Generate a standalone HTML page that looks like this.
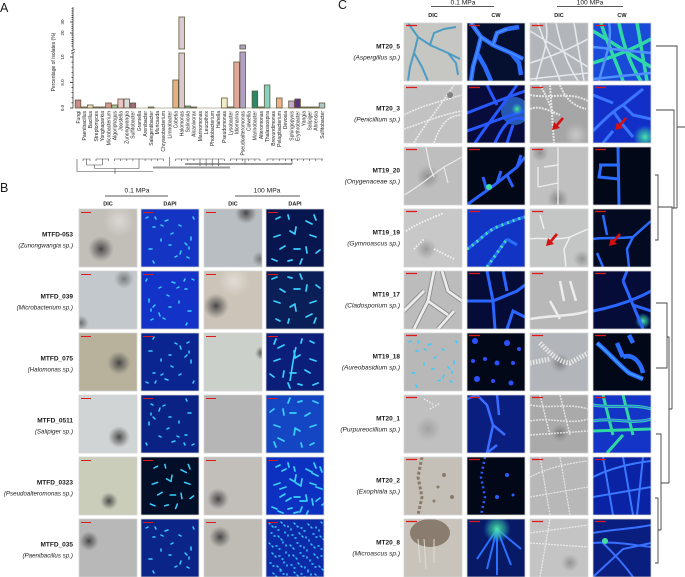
<!DOCTYPE html>
<html><head><meta charset="utf-8"><style>
html,body{margin:0;padding:0;background:#fff;}
svg{display:block;}
text{font-family:"Liberation Sans",Arial,sans-serif;fill:#1a1a1a;}
.it{font-family:"Liberation Serif","Noto Serif CJK SC",serif;font-style:italic;}
.ml{font-size:6.5px;font-weight:bold;text-anchor:end;}
.sl{font-size:6.5px;text-anchor:end;}
.sb{font-size:6.2px;text-anchor:end;}
.hd{font-size:6.7px;text-anchor:middle;}
.ch{font-size:5.5px;font-weight:bold;text-anchor:middle;}
.xl{font-size:5px;text-anchor:end;}
</style></head><body>
<svg width="685" height="577" viewBox="0 0 685 577" xmlns="http://www.w3.org/2000/svg">
<defs>
<clipPath id="cc"><rect width="58" height="58"/></clipPath>
<radialGradient id="blob"><stop offset="0" stop-color="#303030" stop-opacity="0.85"/><stop offset="0.55" stop-color="#505050" stop-opacity="0.45"/><stop offset="1" stop-color="#707070" stop-opacity="0"/></radialGradient>
<radialGradient id="lite"><stop offset="0" stop-color="#ffffff" stop-opacity="0.4"/><stop offset="1" stop-color="#ffffff" stop-opacity="0"/></radialGradient>
<radialGradient id="grn"><stop offset="0" stop-color="#50f0b0" stop-opacity="0.95"/><stop offset="0.6" stop-color="#30c0a0" stop-opacity="0.5"/><stop offset="1" stop-color="#2080ff" stop-opacity="0"/></radialGradient>
<g id="b1" stroke="#38ccff" stroke-width="1.5" stroke-linecap="round" fill="none">
<path d="M5,9l2,-1M14,8l1,2M24,12l3,-1M12,18l2,0M20,16l2,1M30,25l2,-1M50,28l0,3M44,34l2,2M48,38l0,2M8,40l3,0M40,42l-1,3M46,48l2,1M12,52l1,2M34,48l2,-1M52,8l1,2M28,36l2,0M20,30l0,2M38,16l2,1"/>
</g>
<g id="b2" stroke="#38d0ff" stroke-width="1.7" stroke-linecap="round" fill="none">
<path d="M10,10l4,-2M22,6l1,4M40,12l6,3M48,6l2,5M8,28l6,-2M24,22l5,3M30,18l-1,6M44,26l6,2M14,40l5,-3M28,40l6,0M40,38l1,6M50,44l4,-3M6,50l5,2M22,52l4,-1M36,50l-2,5"/>
</g>
<g id="b3" stroke="#38ccff" stroke-width="1.4" stroke-linecap="round" fill="none">
<path d="M3,4l1,1M9,8l1,0M15,3l1,1M22,7l0,1M28,4l1,1M35,9l1,0M42,5l1,1M50,8l0,1M55,3l1,1M5,14l1,0M12,17l1,1M19,13l0,1M26,16l1,0M33,14l1,1M40,18l0,1M47,15l1,0M54,17l1,1M3,24l1,1M10,27l1,0M17,23l0,1M24,26l1,1M31,24l1,0M38,28l0,1M45,25l1,1M52,27l1,0M6,34l1,1M13,37l1,0M20,33l0,1M27,36l1,1M34,34l1,0M41,38l0,1M48,35l1,1M55,37l1,0M4,44l1,0M11,47l1,1M18,43l0,1M25,46l1,0M32,44l1,1M39,48l0,1M46,45l1,0M53,47l1,1M7,54l1,1M14,52l1,0M21,55l0,1M28,53l1,1M35,55l1,0M42,52l0,1M49,55l1,1"/>
</g>
<g id="arw"><path d="M9,-7 L3,0" stroke="#d41010" stroke-width="2.6" fill="none"/><polygon points="-2,5 0,-3 6,3" fill="#d41010"/></g>
</defs>

<!-- ============ PANEL A ============ -->
<text x="0" y="12" style="font-size:12.5px">A</text>
<text transform="translate(55,62) rotate(-90)" style="font-size:5px;text-anchor:middle">Percentage of isolates (%)</text>
<g stroke="#222" stroke-width="0.7" fill="none">
<path d="M73,53V108.3M73,7V49.5"/>
<path d="M71.2,51 l3.6,-1.6M71.2,53.3 l3.6,-1.6"/>
<path d="M70,108H73M70,82.5H73M70,57H73M70,33H73M70,22H73"/>
<path d="M71.5,102.9H73M71.5,97.8H73M71.5,92.7H73M71.5,87.6H73M71.5,77.4H73M71.5,72.3H73M71.5,67.2H73M71.5,62.1H73"/>
<path d="M71.5,46H73M71.5,43.8H73M71.5,41.6H73M71.5,39.4H73M71.5,37.2H73M71.5,35H73M71.5,30.8H73M71.5,28.6H73M71.5,26.4H73M71.5,24.2H73M71.5,19.8H73M71.5,17.6H73M71.5,15.4H73M71.5,13.2H73M71.5,11H73M71.5,8.8H73"/>
</g>
<g style="font-size:4.5px;text-anchor:middle">
<text transform="translate(64,108) rotate(-90)">0.0</text>
<text transform="translate(64,82.5) rotate(-90)">5.0</text>
<text transform="translate(64,57) rotate(-90)">10</text>
<text transform="translate(64,33) rotate(-90)">20</text>
<text transform="translate(64,22) rotate(-90)">30</text>
</g>
<g stroke="#5c5a3c" stroke-width="0.8">
<rect x="75.2" y="100" width="5.6" height="8" fill="#c98a8a"/>
<rect x="81.3" y="107" width="5.6" height="1" fill="#b09070"/>
<rect x="87.4" y="105" width="5.6" height="3" fill="#ece4c4"/>
<rect x="93.5" y="107" width="5.6" height="1" fill="#8a6a50"/>
<rect x="99.6" y="107" width="5.6" height="1" fill="#8a6a50"/>
<rect x="105.7" y="103" width="5.6" height="5" fill="#d89890"/>
<rect x="111.8" y="105" width="5.6" height="3" fill="#a8c8a0"/>
<rect x="117.9" y="99" width="5.6" height="9" fill="#ecc4c4"/>
<rect x="124.0" y="99" width="5.6" height="9" fill="#dadada"/>
<rect x="130.1" y="103" width="5.6" height="5" fill="#a06878"/>
<rect x="148.4" y="107" width="5.6" height="1" fill="#c0c0c0"/>
<rect x="172.8" y="80" width="5.6" height="28" fill="#e8b080"/>
<rect x="178.9" y="53" width="5.6" height="55" fill="#dcc8d4"/>
<rect x="178.9" y="17" width="5.6" height="32" fill="#dcc8d4"/>
<rect x="185.0" y="106" width="5.6" height="2" fill="#70a8a0"/>
<rect x="191.1" y="107" width="5.6" height="1" fill="#806040"/>
<rect x="221.6" y="98" width="5.6" height="10" fill="#f4ecc4"/>
<rect x="227.7" y="107" width="5.6" height="1" fill="#c0c0a0"/>
<rect x="233.8" y="62" width="5.6" height="46" fill="#e0a898"/>
<rect x="239.9" y="52" width="5.6" height="56" fill="#b0a0c4"/>
<rect x="239.9" y="45" width="5.6" height="4" fill="#b0a0c4"/>
<rect x="252.1" y="91" width="5.6" height="17" fill="#2a8868"/>
<rect x="258.2" y="107" width="5.6" height="1" fill="#6a8a70"/>
<rect x="264.3" y="85" width="5.6" height="23" fill="#88d0c0"/>
<rect x="276.5" y="98" width="5.6" height="10" fill="#f0b088"/>
<rect x="288.7" y="101" width="5.6" height="7" fill="#c8a8d0"/>
<rect x="294.8" y="99" width="5.6" height="9" fill="#603080"/>
<rect x="300.9" y="107" width="5.6" height="1" fill="#a07060"/>
<rect x="307.0" y="107" width="5.6" height="1" fill="#a07060"/>
<rect x="313.1" y="107" width="5.6" height="1" fill="#b0a080"/>
<rect x="319.2" y="103" width="5.6" height="5" fill="#b0c8c8"/>
</g>
<path d="M75,108H325" stroke="#7a7050" stroke-width="0.6"/>
<g class="xl">
<text transform="translate(79.8,111) rotate(-90)">Fungi</text>
<text transform="translate(85.9,111) rotate(-90)">Paenibacillus</text>
<text transform="translate(92.0,111) rotate(-90)">Bacillus</text>
<text transform="translate(98.1,111) rotate(-90)">Streptomyces</text>
<text transform="translate(104.2,111) rotate(-90)">Yonghaparkia</text>
<text transform="translate(110.3,111) rotate(-90)">Microbacterium</text>
<text transform="translate(116.4,111) rotate(-90)">Algoriphagus</text>
<text transform="translate(122.5,111) rotate(-90)">Joostella</text>
<text transform="translate(128.6,111) rotate(-90)">Zunongwangia</text>
<text transform="translate(134.7,111) rotate(-90)">Sulfitobacter</text>
<text transform="translate(140.8,111) rotate(-90)">Gramella</text>
<text transform="translate(146.9,111) rotate(-90)">Arenibacter</text>
<text transform="translate(153.0,111) rotate(-90)">Salegentibacter</text>
<text transform="translate(159.1,111) rotate(-90)">Muricauda</text>
<text transform="translate(165.2,111) rotate(-90)">Chryseobacterium</text>
<text transform="translate(171.3,111) rotate(-90)">Limnobacter</text>
<text transform="translate(177.4,111) rotate(-90)">Cobetia</text>
<text transform="translate(183.5,111) rotate(-90)">Halomonas</text>
<text transform="translate(189.6,111) rotate(-90)">Salinicola</text>
<text transform="translate(195.7,111) rotate(-90)">Alcanivorax</text>
<text transform="translate(201.8,111) rotate(-90)">Marinomonas</text>
<text transform="translate(207.9,111) rotate(-90)">Leucothrix</text>
<text transform="translate(214.0,111) rotate(-90)">Photobacterium</text>
<text transform="translate(220.1,111) rotate(-90)">Hahella</text>
<text transform="translate(226.2,111) rotate(-90)">Pseudomonas</text>
<text transform="translate(232.3,111) rotate(-90)">Lysobacter</text>
<text transform="translate(238.4,111) rotate(-90)">Idiomarina</text>
<text transform="translate(244.5,111) rotate(-90)">Pseudoalteromonas</text>
<text transform="translate(250.6,111) rotate(-90)">Colwellia</text>
<text transform="translate(256.7,111) rotate(-90)">Marinobacter</text>
<text transform="translate(262.8,111) rotate(-90)">Alteromonas</text>
<text transform="translate(268.9,111) rotate(-90)">Thalassospira</text>
<text transform="translate(275.0,111) rotate(-90)">Brevundimonas</text>
<text transform="translate(281.1,111) rotate(-90)">Pelagibacterium</text>
<text transform="translate(287.2,111) rotate(-90)">Devosia</text>
<text transform="translate(293.3,111) rotate(-90)">Sphingopyxis</text>
<text transform="translate(299.4,111) rotate(-90)">Erythrobacter</text>
<text transform="translate(305.5,111) rotate(-90)">Yangia</text>
<text transform="translate(311.6,111) rotate(-90)">Salipiger</text>
<text transform="translate(317.7,111) rotate(-90)">Ahrensia</text>
<text transform="translate(323.8,111) rotate(-90)">Sulfitobacter</text>
</g>
<!-- tree A -->
<g stroke="#9a9a9a" stroke-width="2" fill="none">
<path d="M153,167.5H230M185,164H292"/>
</g>
<g stroke="#444" stroke-width="0.6" fill="none">
<path d="M77,159V171.5H153M115,171.5V174"/>
<path d="M83,161V159H90V161M86.5,159V165"/>
<path d="M96,161V159H108.5V161M102.4,159V165M86.5,165H102.4M94.5,165V168.5"/>
<path d="M114.6,161V159H163.4V161M120.7,159V161M126.8,159V161M132.9,159V161M139,159V161M145.1,159V161M151.2,159V161M157.3,159V161M139,159V168.5M94.5,168.5H139M115,168.5V171.5"/>
<path d="M169.5,157V166M175.6,159V161M175.6,159H224.4M181.7,159V161M187.8,159V161M193.9,159V161M200,159V166M206.1,159V166M212.2,159V166M218.3,159V166M224.4,159V161"/>
<path d="M230.5,161V159H260M236.6,159V161M242.7,159V161M248.8,159V161M254.9,159V161M260,159V161M245,159V164"/>
<path d="M267,161V159H323M273,159V161M279.2,159V161M285.3,159V161M291.4,159V161M297.5,159V161M303.6,159V161M309.7,159V161M315.8,159V161M322,159V161M292,159V164"/>
</g>

<!-- ============ PANEL B ============ -->
<text x="0" y="192" style="font-size:12.5px">B</text>
<text class="hd" x="137" y="192.5">0.1 MPa</text>
<text class="hd" x="267" y="192.5">100 MPa</text>
<path d="M105,196H168M235,196H300" stroke="#222" stroke-width="0.8"/>
<text class="ch" x="108" y="205.5">DIC</text>
<text class="ch" x="170" y="205.5">DAPI</text>
<text class="ch" x="233" y="205.5">DIC</text>
<text class="ch" x="295" y="205.5">DAPI</text>

<g class="ml">
<text x="73" y="236.5">MTFD-053</text>
<text x="73" y="298.5">MTFD_039</text>
<text x="73" y="360.5">MTFD_075</text>
<text x="73" y="422.5">MTFD_0511</text>
<text x="73" y="484.5">MTFD_0323</text>
<text x="73" y="546.5">MTFD_035</text>
</g>
<g class="sb it">
<text x="73" y="247.5">(Zunongwangia sp.)</text>
<text x="73" y="309.5">(Microbacterium sp.)</text>
<text x="73" y="371.5">(Halomonas sp.)</text>
<text x="73" y="433.5">(Salipiger sp.)</text>
<text x="73" y="495.5">(Pseudoalteromonas sp.)</text>
<text x="73" y="557.5">(Paenibacillus sp.)</text>
</g>

<!-- B row 1 -->
<g transform="translate(79,209)"><g clip-path="url(#cc)"><rect width="58" height="58" fill="#c2beb8"/><circle cx="40" cy="12" r="16" fill="url(#lite)"/><circle cx="22" cy="40" r="13" fill="url(#blob)"/></g></g>
<g transform="translate(141,209)"><g clip-path="url(#cc)"><rect width="58" height="58" fill="#1434c4"/><use href="#b1"/></g></g>
<g transform="translate(204,209)"><g clip-path="url(#cc)"><rect width="58" height="58" fill="#b8bec2"/><circle cx="42" cy="4" r="11" fill="url(#blob)"/><circle cx="56" cy="50" r="8" fill="url(#blob)" opacity="0.6"/></g></g>
<g transform="translate(266,209)"><g clip-path="url(#cc)"><rect width="58" height="58" fill="#081650"/><use href="#b2"/></g></g>
<!-- B row 2 -->
<g transform="translate(79,271)"><g clip-path="url(#cc)"><rect width="58" height="58" fill="#c2c8cc"/><circle cx="45" cy="8" r="10" fill="url(#blob)" opacity="0.6"/><circle cx="2" cy="52" r="8" fill="url(#blob)" opacity="0.7"/></g></g>
<g transform="translate(141,271)"><g clip-path="url(#cc)"><rect width="58" height="58" fill="#1232c8"/><use href="#b1" transform="matrix(-1,0,0,1,58,0)"/></g></g>
<g transform="translate(204,271)"><g clip-path="url(#cc)"><rect width="58" height="58" fill="#ccc4b8"/><circle cx="30" cy="10" r="16" fill="url(#lite)"/><circle cx="12" cy="35" r="13" fill="url(#blob)"/></g></g>
<g transform="translate(266,271)"><g clip-path="url(#cc)"><rect width="58" height="58" fill="#0a1e58"/><use href="#b2" transform="matrix(1,0,0,-1,0,58)"/></g></g>
<!-- B row 3 -->
<g transform="translate(79,333)"><g clip-path="url(#cc)"><rect width="58" height="58" fill="#b8b29c"/><circle cx="40" cy="30" r="12" fill="url(#blob)"/></g></g>
<g transform="translate(141,333)"><g clip-path="url(#cc)"><rect width="58" height="58" fill="#0a2490"/><use href="#b1" transform="matrix(1,0,0,-1,0,58)"/></g></g>
<g transform="translate(204,333)"><g clip-path="url(#cc)"><rect width="58" height="58" fill="#ccd0ca"/><circle cx="58" cy="20" r="7" fill="url(#blob)"/></g></g>
<g transform="translate(266,333)"><g clip-path="url(#cc)"><rect width="58" height="58" fill="#0a1e7a"/><use href="#b2" transform="matrix(-1,0,0,1,58,0)"/><path d="M30,14 C27,26 26,36 24,48" stroke="#38d0ff" stroke-width="1.6" fill="none"/></g></g>
<!-- B row 4 -->
<g transform="translate(79,395)"><g clip-path="url(#cc)"><rect width="58" height="58" fill="#d0d4d4"/><circle cx="40" cy="42" r="11" fill="url(#blob)"/></g></g>
<g transform="translate(141,395)"><g clip-path="url(#cc)"><rect width="58" height="58" fill="#0a2284"/><use href="#b1" transform="matrix(-1,0,0,-1,58,58)"/></g></g>
<g transform="translate(204,395)"><g clip-path="url(#cc)"><rect width="58" height="58" fill="#b6b6b6"/></g></g>
<g transform="translate(266,395)"><g clip-path="url(#cc)"><rect width="58" height="58" fill="#1446c4"/><use href="#b2" transform="matrix(-1,0,0,-1,58,58)"/></g></g>
<!-- B row 5 -->
<g transform="translate(79,457)"><g clip-path="url(#cc)"><rect width="58" height="58" fill="#cacdba"/><circle cx="30" cy="44" r="9" fill="url(#blob)"/></g></g>
<g transform="translate(141,457)"><g clip-path="url(#cc)"><rect width="58" height="58" fill="#030e28"/><use href="#b2" transform="translate(4,2) scale(0.9)"/></g></g>
<g transform="translate(204,457)"><g clip-path="url(#cc)"><rect width="58" height="58" fill="#c2beba"/><circle cx="14" cy="42" r="11" fill="url(#blob)"/></g></g>
<g transform="translate(266,457)"><g clip-path="url(#cc)"><rect width="58" height="58" fill="#0c30c0"/><use href="#b2"/><use href="#b2" transform="translate(6,4)"/></g></g>
<!-- B row 6 -->
<g transform="translate(79,519)"><g clip-path="url(#cc)"><rect width="58" height="58" fill="#b8b8b8"/><circle cx="10" cy="22" r="10" fill="url(#blob)"/></g></g>
<g transform="translate(141,519)"><g clip-path="url(#cc)"><rect width="58" height="58" fill="#0a2488"/><use href="#b1"/></g></g>
<g transform="translate(204,519)"><g clip-path="url(#cc)"><rect width="58" height="58" fill="#bebcb4"/><circle cx="16" cy="18" r="11" fill="url(#blob)"/></g></g>
<g transform="translate(266,519)"><g clip-path="url(#cc)"><rect width="58" height="58" fill="#0a2aa8"/><use href="#b3"/><use href="#b3" transform="translate(3,3)"/></g></g>

<!-- B borders + scalebars -->
<g fill="none" stroke="#d4d4d4" stroke-width="0.8">
<path d="M79,209h58v58h-58zM141,209h58v58h-58zM204,209h58v58h-58zM266,209h58v58h-58z"/>
<path d="M79,271h58v58h-58zM141,271h58v58h-58zM204,271h58v58h-58zM266,271h58v58h-58z"/>
<path d="M79,333h58v58h-58zM141,333h58v58h-58zM204,333h58v58h-58zM266,333h58v58h-58z"/>
<path d="M79,395h58v58h-58zM141,395h58v58h-58zM204,395h58v58h-58zM266,395h58v58h-58z"/>
<path d="M79,457h58v58h-58zM141,457h58v58h-58zM204,457h58v58h-58zM266,457h58v58h-58z"/>
<path d="M79,519h58v58h-58zM141,519h58v58h-58zM204,519h58v58h-58zM266,519h58v58h-58z"/>
</g>
<g stroke="#e01818" stroke-width="1">
<path d="M81,212.5h10M143,212.5h10M206,212.5h10M268,212.5h10"/>
<path d="M81,274.5h10M143,274.5h10M206,274.5h10M268,274.5h10"/>
<path d="M81,336.5h10M143,336.5h10M206,336.5h10M268,336.5h10"/>
<path d="M81,398.5h10M143,398.5h10M206,398.5h10M268,398.5h10"/>
<path d="M81,460.5h10M143,460.5h10M206,460.5h10M268,460.5h10"/>
<path d="M81,522.5h10M143,522.5h10M206,522.5h10M268,522.5h10"/>
</g>

<!-- ============ PANEL C ============ -->
<text x="338" y="9" style="font-size:12.5px">C</text>
<text class="hd" x="463" y="4.5">0.1 MPa</text>
<text class="hd" x="590" y="4.5">100 MPa</text>
<path d="M431,6.5H494M557,6.5H623" stroke="#222" stroke-width="0.8"/>
<text class="ch" x="433" y="17">DIC</text>
<text class="ch" x="496" y="17">CW</text>
<text class="ch" x="559" y="17">DIC</text>
<text class="ch" x="622" y="17">CW</text>

<g class="ml">
<text x="400" y="48.5">MT20_5</text>
<text x="400" y="110.5">MT20_3</text>
<text x="400" y="172.5">MT19_20</text>
<text x="400" y="234.5">MT19_19</text>
<text x="400" y="296.5">MT19_17</text>
<text x="400" y="358.5">MT19_18</text>
<text x="400" y="420.5">MT20_1</text>
<text x="400" y="482.5">MT20_2</text>
<text x="400" y="544.5">MT20_8</text>
</g>
<g class="sl it">
<text x="400" y="59.5">(Aspergillus sp.)</text>
<text x="400" y="121.5">(Penicillium sp.)</text>
<text x="400" y="183.5">(Onygenaceae sp.)</text>
<text x="400" y="245.5">(Gymnoascus sp.)</text>
<text x="400" y="307.5">(Cladosporium sp.)</text>
<text x="400" y="369.5">(Aureobasidium sp.)</text>
<text x="400" y="431.5">(Purpureocillium sp.)</text>
<text x="400" y="493.5">(Exophiala sp.)</text>
<text x="400" y="555.5">(Microascus sp.)</text>
</g>

<!-- C row 1 -->
<g transform="translate(404,23)"><g clip-path="url(#cc)"><rect width="58" height="58" fill="#c6c6c2"/><path d="M4,0 L14,14 L26,22 L44,30 L56,36 M14,14 L10,30 L6,44 L4,58 M26,22 L30,10 L40,6 M44,30 L52,40 L54,52 M10,30 L18,44 L24,58 M40,6 L52,4" stroke="#4d9cc4" stroke-width="2" fill="none"/></g></g>
<g transform="translate(467,23)"><g clip-path="url(#cc)"><rect width="58" height="58" fill="#051030"/><path d="M4,0 L14,14 L26,22 L44,30 L56,36 M14,14 L10,30 L6,44 L4,58 M26,22 L30,10 L40,6 M44,30 L52,40 L54,52 M10,30 L18,44 L24,58 M40,6 L52,4" stroke="#2a6cff" stroke-width="4.5" fill="none"/><path d="M4,0 L14,14 L26,22 L44,30 L56,36 M14,14 L10,30 L6,44 L4,58 M26,22 L30,10 L40,6" stroke="#4a90ff" stroke-width="1.5" fill="none"/></g></g>
<g transform="translate(530,23)"><g clip-path="url(#cc)"><rect width="58" height="58" fill="#b2b6ba"/><path d="M0,8 C20,20 35,30 58,44 M8,0 C14,20 24,40 30,58 M26,0 C30,20 36,40 48,58 M0,40 C20,34 40,26 58,16 M44,0 L54,58 M0,56 L58,50 M16,0 C20,20 10,40 6,58" stroke="#e4e8ec" stroke-width="1.6" fill="none"/></g></g>
<g transform="translate(593,23)"><g clip-path="url(#cc)"><rect width="58" height="58" fill="#1a4ad8"/><path d="M0,8 C20,20 35,30 58,44 M8,0 C14,20 24,40 30,58 M26,0 C30,20 36,40 48,58 M0,40 C20,34 40,26 58,16 M44,0 L54,58" stroke="#30d8a8" stroke-width="3.5" fill="none"/><path d="M0,56 L58,50 M16,0 C20,20 10,40 6,58 M0,24 L58,30" stroke="#5090ff" stroke-width="2.5" fill="none"/></g></g>
<!-- C row 2 -->
<g transform="translate(404,85)"><g clip-path="url(#cc)"><rect width="58" height="58" fill="#c2c2c2"/><path d="M0,30 C15,22 30,18 58,10 M0,44 C18,38 36,30 58,26 M10,58 C20,40 30,30 50,0 M30,58 C36,40 44,30 58,30" stroke="#ececec" stroke-width="1.6" stroke-dasharray="2 1" fill="none"/><circle cx="46" cy="10" r="3" fill="#555" opacity="0.6"/></g></g>
<g transform="translate(467,85)"><g clip-path="url(#cc)"><rect width="58" height="58" fill="#070c3c"/><circle cx="48" cy="26" r="14" fill="#3a8cff" opacity="0.6"/><path d="M0,28 C15,22 30,16 58,6 M0,46 C18,40 36,32 58,26 M8,58 C20,40 30,28 50,0 M28,58 C36,40 44,30 58,34 M40,58 L46,40 M20,0 L30,20" stroke="#2858ff" stroke-width="3" fill="none"/><circle cx="50" cy="24" r="6" fill="url(#grn)"/></g></g>
<g transform="translate(530,85)"><g clip-path="url(#cc)"><rect width="58" height="58" fill="#a6a6a6"/><circle cx="46" cy="50" r="12" fill="url(#lite)"/><path d="M0,10 C20,14 40,6 58,16 M10,0 C16,10 20,20 24,30 M30,0 C34,10 40,20 56,24 M0,24 C10,20 20,26 30,30 M20,0 L24,58" stroke="#e6e6e6" stroke-width="2" stroke-dasharray="2 1" fill="none"/><use href="#arw" transform="translate(24,40)"/></g></g>
<g transform="translate(593,85)"><g clip-path="url(#cc)"><rect width="58" height="58" fill="#1230c8"/><circle cx="52" cy="52" r="12" fill="url(#grn)"/><path d="M0,46 C10,36 20,26 30,20 L50,4 M20,26 L30,40 L40,52 M30,20 L40,30 L58,34 M10,58 L20,46 M0,10 L20,18" stroke="#3a74ff" stroke-width="3" fill="none"/><use href="#arw" transform="translate(24,40)"/></g></g>
<!-- C row 3 -->
<g transform="translate(404,147)"><g clip-path="url(#cc)"><rect width="58" height="58" fill="#bebebe"/><circle cx="24" cy="30" r="12" fill="url(#blob)" opacity="0.4"/><path d="M0,48 C15,40 25,30 40,20 L58,10 M22,0 L26,20 L30,30 M40,20 L44,36" stroke="#eaeaea" stroke-width="1.2" fill="none"/></g></g>
<g transform="translate(467,147)"><g clip-path="url(#cc)"><rect width="58" height="58" fill="#030818"/><path d="M0,58 C10,50 20,44 30,36 L50,20 L58,10 M30,36 L34,24 M40,28 L46,40 M50,20 L54,8 M20,44 L16,30" stroke="#2a62ff" stroke-width="3" fill="none"/><circle cx="22" cy="40" r="3" fill="#40e0a0"/></g></g>
<g transform="translate(530,147)"><g clip-path="url(#cc)"><rect width="58" height="58" fill="#c0c0c0"/><circle cx="28" cy="52" r="11" fill="url(#blob)" opacity="0.5"/><circle cx="10" cy="6" r="9" fill="url(#blob)" opacity="0.4"/><path d="M14,20 L28,18 M28,0 L28,58 M8,40 L28,36 M8,20 L8,40" stroke="#ececec" stroke-width="1.4" fill="none"/></g></g>
<g transform="translate(593,147)"><g clip-path="url(#cc)"><rect width="58" height="58" fill="#030818"/><path d="M25,0 L26,58 M6,18 L26,18 M8,18 L6,30 L26,32" stroke="#2a6cff" stroke-width="3" fill="none"/></g></g>
<!-- C row 4 -->
<g transform="translate(404,209)"><g clip-path="url(#cc)"><rect width="58" height="58" fill="#c8c8c8"/><circle cx="22" cy="40" r="11" fill="url(#blob)" opacity="0.35"/><path d="M2,22 C15,14 25,10 40,4 M10,40 L20,30 M30,40 L50,50" stroke="#f2f2f2" stroke-width="2" stroke-dasharray="1.5 1.5" fill="none"/></g></g>
<g transform="translate(467,209)"><g clip-path="url(#cc)"><rect width="58" height="58" fill="#1234c4"/><path d="M0,40 C10,34 20,22 30,18 C40,14 50,10 58,8 M20,58 L40,30 M40,30 L50,36" stroke="#2a70ff" stroke-width="3" fill="none"/><path d="M0,40 C10,34 20,22 30,18 C40,14 50,10 58,8 M20,58 L40,30" stroke="#40e0b0" stroke-width="3" stroke-dasharray="2 4" fill="none"/></g></g>
<g transform="translate(530,209)"><g clip-path="url(#cc)"><rect width="58" height="58" fill="#c4c6c6"/><circle cx="52" cy="50" r="9" fill="url(#blob)" opacity="0.4"/><path d="M0,30 C12,28 24,32 40,28 L58,20 M40,28 L34,40 L36,58 M10,6 L14,20" stroke="#f0f0f0" stroke-width="1.4" fill="none"/><use href="#arw" transform="translate(18,32)"/></g></g>
<g transform="translate(593,209)"><g clip-path="url(#cc)"><rect width="58" height="58" fill="#040a22"/><path d="M0,30 C12,28 24,30 40,28 L58,12 M40,28 L34,40 L36,58 M10,6 L14,26 M4,44 L10,58" stroke="#2a6cff" stroke-width="2.5" fill="none"/><use href="#arw" transform="translate(18,32)"/></g></g>
<!-- C row 5 -->
<g transform="translate(404,271)"><g clip-path="url(#cc)"><rect width="58" height="58" fill="#bcbcbc"/><path d="M10,58 L24,30 L30,0 M24,30 L44,44 M0,40 L20,20 M38,0 L44,20 L58,30 M34,58 L50,40" stroke="#8a8a8a" stroke-width="4.5" fill="none"/><path d="M10,58 L24,30 L30,0 M24,30 L44,44 M0,40 L20,20 M38,0 L44,20 L58,30 M34,58 L50,40" stroke="#ececec" stroke-width="2.8" fill="none"/></g></g>
<g transform="translate(467,271)"><g clip-path="url(#cc)"><rect width="58" height="58" fill="#050c38"/><path d="M20,0 L26,30 L28,58 M26,30 L50,20 L58,14 M0,30 L26,30 M36,0 L40,20 M40,58 L46,40 L58,46" stroke="#2a66ff" stroke-width="3" fill="none"/></g></g>
<g transform="translate(530,271)"><g clip-path="url(#cc)"><rect width="58" height="58" fill="#b8b8b8"/><path d="M0,48 C20,44 40,46 58,40 M20,30 L30,48 M40,10 L46,30 M30,10 L34,30" stroke="#ececec" stroke-width="2.5" fill="none"/></g></g>
<g transform="translate(593,271)"><g clip-path="url(#cc)"><rect width="58" height="58" fill="#050c38"/><circle cx="50" cy="50" r="8" fill="url(#grn)"/><path d="M0,40 C20,36 40,30 58,20 M30,10 L40,34 L50,58 M40,34 L58,40 M34,0 L30,10" stroke="#2a66ff" stroke-width="3" fill="none"/></g></g>
<!-- C row 6 -->
<g transform="translate(404,333)"><g clip-path="url(#cc)"><rect width="58" height="58" fill="#b8b8b8"/><use href="#b1" style="stroke:#ececec"/></g></g>
<g transform="translate(467,333)"><g clip-path="url(#cc)"><rect width="58" height="58" fill="#020818"/><g fill="#2a50ff"><circle cx="8" cy="8" r="3"/><circle cx="18" cy="26" r="2"/><circle cx="40" cy="10" r="3"/><circle cx="30" cy="30" r="2.5"/><circle cx="46" cy="30" r="2"/><circle cx="10" cy="46" r="3"/><circle cx="26" cy="48" r="2"/><circle cx="44" cy="50" r="2.5"/><circle cx="52" cy="16" r="2"/><circle cx="6" cy="28" r="2"/></g></g></g>
<g transform="translate(530,333)"><g clip-path="url(#cc)"><rect width="58" height="58" fill="#b2b6ba"/><circle cx="30" cy="30" r="10" fill="url(#blob)" opacity="0.5"/><path d="M10,10 C20,20 30,30 40,30 L58,20 M0,30 L20,26" stroke="#e8e8e8" stroke-width="5" stroke-dasharray="1.5 1.5" fill="none"/></g></g>
<g transform="translate(593,333)"><g clip-path="url(#cc)"><rect width="58" height="58" fill="#020818"/><path d="M4,10 C14,18 24,30 36,40 L50,46 M24,10 L30,24 M30,24 C40,20 48,30 50,40 M36,2 L40,10" stroke="#2a6cff" stroke-width="4.5" fill="none"/><path d="M4,10 C14,18 24,30 36,40 L50,46" stroke="#40a0ff" stroke-width="1.5" fill="none"/></g></g>
<!-- C row 7 -->
<g transform="translate(404,395)"><g clip-path="url(#cc)"><rect width="58" height="58" fill="#c0c0c0"/><circle cx="24" cy="34" r="13" fill="url(#blob)" opacity="0.25"/><path d="M20,4 L30,10 M26,14 L36,8" stroke="#ececec" stroke-width="1.5" stroke-dasharray="1.5 1.5"/></g></g>
<g transform="translate(467,395)"><g clip-path="url(#cc)"><rect width="58" height="58" fill="#0a1e80"/><path d="M10,0 L20,10 L26,30 L20,58 M26,30 L38,40 M30,0 L32,20 M20,58 L30,50 M0,4 L10,0" stroke="#3a6cff" stroke-width="2.5" fill="none"/></g></g>
<g transform="translate(530,395)"><g clip-path="url(#cc)"><rect width="58" height="58" fill="#aaaaaa"/><circle cx="30" cy="38" r="9" fill="url(#blob)" opacity="0.5"/><path d="M0,10 C20,14 40,8 58,14 M0,26 C20,22 40,30 58,24 M10,0 L20,40 M30,0 L40,40 M0,40 L58,36" stroke="#e4e4e4" stroke-width="1.5" stroke-dasharray="2 1" fill="none"/></g></g>
<g transform="translate(593,395)"><g clip-path="url(#cc)"><rect width="58" height="58" fill="#1434c8"/><path d="M0,10 C20,14 40,8 58,14 M0,26 C20,22 40,30 58,24 M10,0 L20,40 M30,0 L40,40 M0,36 L58,34 M14,58 L30,40" stroke="#30d8a0" stroke-width="3" fill="none"/><path d="M0,10 C20,14 40,8 58,14 M0,26 C20,22 40,30 58,24" stroke="#3a70ff" stroke-width="1.2" fill="none"/></g></g>
<!-- C row 8 -->
<g transform="translate(404,457)"><g clip-path="url(#cc)"><rect width="58" height="58" fill="#c4c0b8"/><path d="M18,0 L14,20 L18,40 L14,58" stroke="#8a7a6a" stroke-width="3" stroke-dasharray="3 2" fill="none"/><g fill="#8a7a6a"><circle cx="40" cy="18" r="2"/><circle cx="34" cy="30" r="1.5"/><circle cx="48" cy="40" r="2"/><circle cx="30" cy="44" r="1.5"/></g></g></g>
<g transform="translate(467,457)"><g clip-path="url(#cc)"><rect width="58" height="58" fill="#030818"/><path d="M18,0 L14,20 L18,40 L14,58" stroke="#2a60ff" stroke-width="2.5" stroke-dasharray="2 3" fill="none"/><g fill="#2a60ff"><circle cx="40" cy="18" r="2"/><circle cx="30" cy="40" r="2"/><circle cx="46" cy="38" r="1.5"/></g></g></g>
<g transform="translate(530,457)"><g clip-path="url(#cc)"><rect width="58" height="58" fill="#b8b8b8"/><path d="M0,20 C20,10 40,6 58,4 M10,0 L20,58 M30,0 L40,58 M0,40 L58,30" stroke="#e8e8e8" stroke-width="1.2" stroke-dasharray="2 1" fill="none"/></g></g>
<g transform="translate(593,457)"><g clip-path="url(#cc)"><rect width="58" height="58" fill="#0a22a4"/><path d="M0,20 C20,10 40,6 58,4 M10,0 L20,58 M30,0 L40,58 M0,40 L58,30 M50,0 L44,58" stroke="#3a78ff" stroke-width="2" fill="none"/></g></g>
<!-- C row 9 -->
<g transform="translate(404,519)"><g clip-path="url(#cc)"><rect width="58" height="58" fill="#c8c4bc"/><ellipse cx="26" cy="14" rx="20" ry="14" fill="#7a6a5a" opacity="0.8"/><path d="M20,20 L22,50 M30,20 L30,44 M14,20 L16,44" stroke="#e0dccf" stroke-width="1" fill="none"/></g></g>
<g transform="translate(467,519)"><g clip-path="url(#cc)"><rect width="58" height="58" fill="#081a66"/><path d="M30,10 L10,40 M30,10 L20,50 M30,10 L30,56 M30,10 L44,46 M30,10 L54,30" stroke="#2a70ff" stroke-width="2" fill="none"/><circle cx="30" cy="10" r="14" fill="url(#grn)"/></g></g>
<g transform="translate(530,519)"><g clip-path="url(#cc)"><rect width="58" height="58" fill="#c4c4c4"/><circle cx="40" cy="44" r="9" fill="url(#blob)" opacity="0.4"/><path d="M0,14 L58,6 M0,24 L58,28 M20,0 L10,58" stroke="#ececec" stroke-width="1.2" stroke-dasharray="2 1" fill="none"/></g></g>
<g transform="translate(593,519)"><g clip-path="url(#cc)"><rect width="58" height="58" fill="#0a1e80"/><path d="M0,14 C20,10 40,10 58,6 M0,24 C20,22 40,26 58,28 M10,24 C20,34 30,44 40,58 M0,58 L30,30 L58,24" stroke="#3a70ff" stroke-width="2" fill="none"/><circle cx="12" cy="22" r="3" fill="#40e0a0"/></g></g>

<!-- C borders + scalebars -->
<g fill="none" stroke="#d4d4d4" stroke-width="0.8">
<path d="M404,23h58v58h-58zM467,23h58v58h-58zM530,23h58v58h-58zM593,23h58v58h-58z"/>
<path d="M404,85h58v58h-58zM467,85h58v58h-58zM530,85h58v58h-58zM593,85h58v58h-58z"/>
<path d="M404,147h58v58h-58zM467,147h58v58h-58zM530,147h58v58h-58zM593,147h58v58h-58z"/>
<path d="M404,209h58v58h-58zM467,209h58v58h-58zM530,209h58v58h-58zM593,209h58v58h-58z"/>
<path d="M404,271h58v58h-58zM467,271h58v58h-58zM530,271h58v58h-58zM593,271h58v58h-58z"/>
<path d="M404,333h58v58h-58zM467,333h58v58h-58zM530,333h58v58h-58zM593,333h58v58h-58z"/>
<path d="M404,395h58v58h-58zM467,395h58v58h-58zM530,395h58v58h-58zM593,395h58v58h-58z"/>
<path d="M404,457h58v58h-58zM467,457h58v58h-58zM530,457h58v58h-58zM593,457h58v58h-58z"/>
<path d="M404,519h58v58h-58zM467,519h58v58h-58zM530,519h58v58h-58zM593,519h58v58h-58z"/>
</g>
<g stroke="#e01818" stroke-width="1.2">
<path d="M406,25.5h11M469,25.5h11M532,25.5h11M595,25.5h11"/>
<path d="M406,87.5h11M469,87.5h11M532,87.5h11M595,87.5h11"/>
<path d="M406,149.5h11M469,149.5h11M532,149.5h11M595,149.5h11"/>
<path d="M406,211.5h11M469,211.5h11M532,211.5h11M595,211.5h11"/>
<path d="M406,273.5h11M469,273.5h11M532,273.5h11M595,273.5h11"/>
<path d="M406,335.5h11M469,335.5h11M532,335.5h11M595,335.5h11"/>
<path d="M406,397.5h11M469,397.5h11M532,397.5h11M595,397.5h11"/>
<path d="M406,459.5h11M469,459.5h11M532,459.5h11M595,459.5h11"/>
<path d="M406,521.5h11M469,521.5h11M532,521.5h11M595,521.5h11"/>
</g>

<!-- C tree -->
<g stroke="#444" stroke-width="0.9" fill="none">
<path d="M656,46H677V208M677,127H685"/>
<path d="M656,110H674V208M672,208H677"/>
<path d="M655,175H658V240H655M658,207H672V409"/>
<path d="M656,303H667V368H656M667,337H669V483M669,409H672"/>
<path d="M656,434H661V530M661,483H669"/>
<path d="M655,498H658V563H655M658,530H661"/>
</g>
</svg>
</body></html>
